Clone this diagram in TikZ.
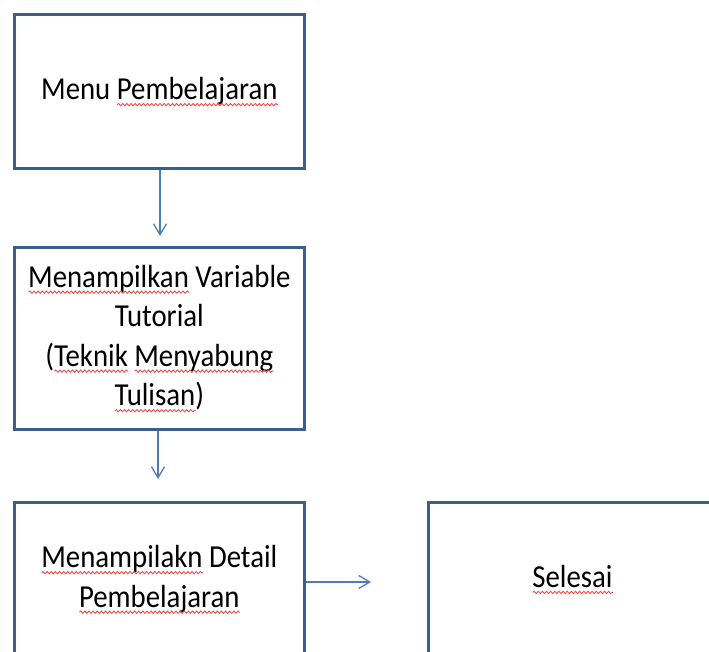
\documentclass[tikz,border=0pt]{standalone}
\usepackage{fontspec}
\setmainfont{Carlito}
\usepackage{graphicx}
\usetikzlibrary{arrows.meta,decorations.pathmorphing}

\definecolor{boxline}{HTML}{3B5F8C}
\definecolor{flowline}{HTML}{4A7EBB}
\definecolor{spellred}{HTML}{F04848}

% word with a wavy red underline
\newsavebox\wavebox
\newlength\wavewd
\newcommand\wavy[1]{%
  \sbox\wavebox{#1}%
  \setlength\wavewd{\wd\wavebox}%
  \rlap{\usebox\wavebox}%
  \makebox[\wavewd][l]{\smash{\tikz[baseline=0pt]\draw[spellred, line width=0.9pt,
      decorate, decoration={snake, amplitude=1.2pt, segment length=4.6pt}]
      (0pt,-5pt) -- (\wavewd,-5pt);}}%
}
\newcommand\boxtext[1]{\scalebox{0.9}[1]{\begin{tabular}{@{}c@{}}#1\end{tabular}}}

\tikzset{
  flowbox/.style={draw=boxline, line width=3pt, fill=white, inner sep=0pt,
    minimum width=290pt, font=\fontsize{32}{39.5}\selectfont},
  flowarrow/.style={draw=flowline, line width=1.3pt,
    -{Straight Barb[length=11pt, width=13pt, line width=1.3pt]}}
}

\begin{document}
\begin{tikzpicture}[x=1pt, y=-1pt]
  \useasboundingbox (0,0) rectangle (709,652);

  \node[flowbox, minimum height=154.5pt] (menu) at (159.3,91.75)
    {\boxtext{Menu \wavy{Pembelajaran}}};
  \node[flowbox, minimum height=181pt] (variabel) at (159.3,338.5)
    {\boxtext{\wavy{Menampilkan} Variable\\Tutorial\\(\wavy{Teknik} \wavy{Menyabung}\\\wavy{Tulisan})}};
  \node[flowbox, minimum height=155pt] (detail) at (159.3,579.5)
    {\boxtext{\wavy{Menampilakn} Detail\\\wavy{Pembelajaran}}};
  \node[flowbox, minimum width=288pt, minimum height=155pt] (selesai) at (572.5,579.5)
    {\boxtext{\wavy{Selesai}}};

  \coordinate (tip1) at (160,236);
  \coordinate (tip2) at (158,479);
  \coordinate (tip3) at (371,582);

  \draw[flowarrow] (menu.south -| tip1) -- (tip1);
  \draw[flowarrow] (variabel.south -| tip2) -- (tip2);
  \draw[flowarrow] (detail.east |- tip3) -- (tip3);
\end{tikzpicture}
\end{document}
